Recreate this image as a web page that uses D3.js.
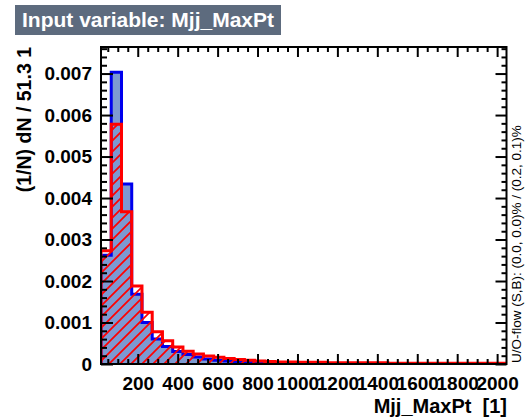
<!DOCTYPE html>
<html><head><meta charset="utf-8">
<script src="https://cdn.jsdelivr.net/npm/d3@7"></script>
<style>
html,body{margin:0;padding:0;background:#fff;}
svg{display:block;font-family:"Liberation Sans",Arial,Helvetica,sans-serif;}
</style></head>
<body><svg id="c" width="526" height="420"></svg>
<script>
// ---- data ----
const titleText = "Input variable: Mjj_MaxPt";
const xTitle = "Mjj_MaxPt  [1]";
const yTitle = "(1/N) dN / 51.3 1";
const overflowText = "U/O-flow (S,B): (0.0, 0.0)% / (0.2, 0.1)%";
const xMin = 16;
const xMax = 2047;
const binWidth = 51.3;
const signal = [0.00262, 0.00703, 0.00434, 0.00168, 0.00100, 0.00060, 0.00042, 0.00030, 0.00023, 0.00017,
  0.00012, 0.00009, 0.00007, 0.00005, 0.00004, 0.00003, 0.00002, 0.000015, 0.00001, 0.00001,
  0.000008, 0.000006, 0.000005, 0.000004, 0.000003, 0.000003, 0.000002, 0.000002, 0.000002, 0.000001,
  0.000001, 0.000001, 0.000001, 0.000001, 0.000001, 0, 0, 0, 0, 0];
const background = [0.00273, 0.00578, 0.00367, 0.00188, 0.00125, 0.00078, 0.00056, 0.00041, 0.00031, 0.00024,
  0.00019, 0.00016, 0.00013, 0.00011, 0.00009, 0.00007, 0.00006, 0.00005, 0.00005, 0.00004,
  0.00004, 0.00004, 0.00003, 0.00003, 0.00003, 0.00003, 0.00003, 0.00003, 0.00002, 0.00002,
  0.00002, 0.00002, 0.00002, 0.00002, 0.00002, 0.00002, 0.00002, 0.00002, 0.00002, 0.00002];
const xTicks = [200, 400, 600, 800, 1000, 1200, 1400, 1600, 1800, 2000];
const yTicks = [0, 0.001, 0.002, 0.003, 0.004, 0.005, 0.006, 0.007];
const yMax = 0.00764;

// ---- layout ----
const L = 101, R = 506.5, T = 47, B = 364;
const nBins = signal.length;
const histEnd = xMin + nBins * binWidth;
const x = d3.scaleLinear().domain([xMin, xMax]).range([L, R]);
const y = d3.scaleLinear().domain([0, yMax]).range([B, T]);

const svg = d3.select("#c");
const defs = svg.append("defs");
defs.append("clipPath").attr("id", "plotclip").append("rect")
  .attr("x", L).attr("y", T).attr("width", R - L).attr("height", B - T);
const pat = defs.append("pattern").attr("id", "hatch").attr("patternUnits", "userSpaceOnUse")
  .attr("width", 11).attr("height", 11);
pat.append("path").attr("d", "M-1,1 L1,-1 M0,11 L11,0 M10,12 L12,10")
  .attr("stroke", "#ff0000").attr("stroke-width", 1.7);

function stepLine(vals) {
  let d = `M${x(xMin)},${y(0)}`;
  vals.forEach((v, i) => {
    d += ` L${x(xMin + i * binWidth)},${y(v)} L${x(xMin + (i + 1) * binWidth)},${y(v)}`;
  });
  d += ` L${x(histEnd)},${y(0)}`;
  return d;
}
const stepArea = vals => stepLine(vals) + " Z";

const g = svg.append("g").attr("clip-path", "url(#plotclip)");
g.append("path").attr("d", stepArea(signal)).attr("fill", "#7d99d1");
g.append("path").attr("d", stepLine(signal)).attr("fill", "none").attr("stroke", "#0000ee").attr("stroke-width", 3);
g.append("path").attr("d", stepArea(background)).attr("fill", "url(#hatch)");
g.append("path").attr("d", stepLine(background)).attr("fill", "none").attr("stroke", "#ff0000").attr("stroke-width", 3);

// ---- axes ----
const xMinor = d3.range(50, xMax, 50).filter(v => v >= xMin && !xTicks.includes(v));
const yMinor = d3.range(0, yMax, 0.0002).filter((v, i) => i % 5 !== 0);

function noDomain(sel) { sel.select(".domain").remove(); sel.selectAll("line").attr("stroke", "#000").attr("stroke-width", 2); }
function styleText(sel) {
  sel.selectAll("text").attr("font-size", 19).attr("font-weight", "bold").attr("fill", "#000")
    .attr("font-family", "Liberation Sans, Arial, sans-serif");
}

const fmtY = d => d === 0 ? "0" : d.toFixed(3);
svg.append("g").attr("transform", `translate(${L},0)`)
  .call(d3.axisLeft(y).tickValues(yTicks).tickSize(-12).tickPadding(9).tickFormat(fmtY)).call(noDomain).call(styleText);
svg.append("g").attr("transform", `translate(${L},0)`)
  .call(d3.axisLeft(y).tickValues(yMinor).tickSize(-6).tickFormat("")).call(noDomain);
svg.append("g").attr("transform", `translate(${R},0)`)
  .call(d3.axisRight(y).tickValues(yTicks).tickSize(-11).tickFormat("")).call(noDomain);
svg.append("g").attr("transform", `translate(${R},0)`)
  .call(d3.axisRight(y).tickValues(yMinor).tickSize(-5).tickFormat("")).call(noDomain);

svg.append("g").attr("transform", `translate(0,${B})`)
  .call(d3.axisBottom(x).tickValues(xTicks).tickSize(-10).tickPadding(13).tickFormat(d3.format("d"))).call(noDomain).call(styleText);
svg.append("g").attr("transform", `translate(0,${B})`)
  .call(d3.axisBottom(x).tickValues(xMinor).tickSize(-5).tickFormat("")).call(noDomain);
svg.append("g").attr("transform", `translate(0,${T})`)
  .call(d3.axisTop(x).tickValues(xTicks).tickSize(-10).tickFormat("")).call(noDomain);
svg.append("g").attr("transform", `translate(0,${T})`)
  .call(d3.axisTop(x).tickValues(xMinor).tickSize(-5).tickFormat("")).call(noDomain);

svg.append("rect").attr("x", L).attr("y", T).attr("width", R - L).attr("height", B - T)
  .attr("fill", "none").attr("stroke", "#000").attr("stroke-width", 2);

// ---- titles ----
svg.append("rect").attr("x", 15).attr("y", 5).attr("width", 266).attr("height", 30).attr("fill", "#5d6b7e");
svg.append("text").attr("x", 22).attr("y", 27).attr("fill", "#fff").attr("font-size", 21).attr("font-weight", "bold")
  .text(titleText);
svg.append("text").attr("x", 507).attr("y", 413).attr("text-anchor", "end").attr("font-size", 20).attr("font-weight", "bold")
  .attr("xml:space", "preserve").style("white-space", "pre").text(xTitle);
svg.append("text").attr("transform", `translate(31,${T}) rotate(-90)`).attr("text-anchor", "end")
  .attr("font-size", 19.5).attr("font-weight", "bold").text(yTitle);
svg.append("text").attr("transform", `translate(521,${B - 1}) rotate(-90)`).attr("text-anchor", "start")
  .attr("font-size", 13.5).text(overflowText);
</script></body></html>
